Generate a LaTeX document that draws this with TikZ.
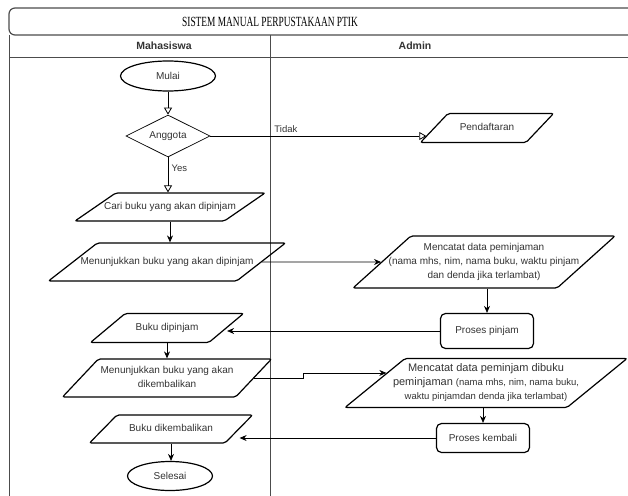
\documentclass[tikz,border=0pt]{standalone}
\usepackage{fontspec}
\setmainfont{Liberation Sans}
\newfontfamily\titlefont[FakeStretch=0.67]{Liberation Serif}
\usetikzlibrary{shapes.geometric}
\usetikzlibrary{arrows.meta}
\usetikzlibrary{calc}
\newcommand{\nw}[1]{\makebox[0pt]{\begin{tabular}{@{}c@{}}#1\end{tabular}}}
\colorlet{lanec}{black!70}
\colorlet{txtc}{black!80}
\tikzset{fcp/.style={
  x=1pt,
  y=-1pt,
  font=\fontsize{10}{14}\selectfont
}}
\tikzset{term/.style={
  draw,
  shape=ellipse,
  line width=1.2pt,
  inner sep=0pt,
  text=txtc
}}
\tikzset{dec/.style={
  draw,
  shape=diamond,
  aspect=2,
  line width=0.7pt,
  inner sep=0pt,
  text=txtc
}}
\tikzset{io/.style={
  draw,
  shape=trapezium,
  trapezium stretches body,
  rounded corners=2pt,
  line width=1.2pt,
  inner sep=0pt,
  text=txtc
}}
\tikzset{sl/.style={trapezium left angle=#1,trapezium right angle={180-#1}}}
\tikzset{proc/.style={
  draw,
  shape=rectangle,
  rounded corners=5pt,
  line width=1.2pt,
  inner sep=0pt,
  text=txtc
}}
\tikzset{flow/.style={-{Stealth[length=7pt,width=6pt]},line width=0.8pt}}
\tikzset{flowo/.style={-{Triangle[open,length=7pt,width=8pt]},line width=0.8pt}}

\begin{document}
\begin{tikzpicture}[fcp]
    \clip (0,0) rectangle (628,495);

    % Pool and lanes
    \draw[lanec,line width=1.2pt,rounded corners=6pt] (9,8) rectangle (680,35);
    \node[font=\titlefont\fontsize{14}{16}\selectfont] (judul) at (270,22)
      {SISTEM MANUAL PERPUSTAKAAN PTIK};
    \draw[lanec,line width=0.9pt] (9,35) -- (9,500);
    \draw[lanec,line width=0.9pt] (270,35) -- (270,500);
    \draw[lanec,line width=0.9pt] (9,57) -- (680,57);
    \node[font=\bfseries\fontsize{10.5}{12}\selectfont,text=txtc] (mhs) at (164,46) {Mahasiswa};
    \node[font=\bfseries\fontsize{10.5}{12}\selectfont,text=txtc] (adm) at (415,46) {Admin};

    % Mahasiswa lane
    \node[term,minimum width=95,minimum height=30] (mulai) at (168,76) {Mulai};
    \node[dec,minimum width=84,minimum height=42] (anggota) at (168,136) {Anggota};
    \node[io,sl=19,minimum width=190,minimum height=28] (cari) at (170,207)
      {\nw{Cari buku yang akan dipinjam}};
    \node[io,sl=16,minimum width=237,minimum height=38] (tunjuk) at (167,262)
      {\nw{Menunjukkan buku yang akan dipinjam}};
    \node[io,sl=22,minimum width=153,minimum height=29] (dipinjam) at (167,328)
      {\nw{Buku dipinjam}};
    \node[io,sl=38,minimum width=209,minimum height=38] (tunjukb) at (167,378)
      {\nw{Menunjukkan buku yang akan\\dikembalikan}};
    \node[io,sl=27,minimum width=163,minimum height=28] (kembalikan) at (171,429)
      {\nw{Buku dikembalikan}};
    \node[term,minimum width=85,minimum height=29] (selesai) at (170,476) {Selesai};

    % Admin lane
    \node[io,sl=27,minimum width=133,minimum height=29] (daftar) at (487,128)
      {\nw{Pendaftaran}};
    \node[io,sl=36,minimum width=262,minimum height=52] (catat) at (484,262)
      {\nw{Mencatat data peminjaman\\(nama mhs, nim, nama buku, waktu pinjam\\dan denda jika terlambat)}};
    \node[proc,minimum width=93,minimum height=35] (pinjam) at (487,331) {Proses pinjam};
    \node[io,sl=35,minimum width=282,minimum height=49] (catatb) at (486,383)
      {\nw{\fontsize{11}{14}\selectfont Mencatat data peminjam dibuku\\
        \fontsize{11}{14}\selectfont peminjaman {\fontsize{9.5}{14}\selectfont(nama mhs, nim, nama buku,}\\
        \fontsize{9.5}{14}\selectfont waktu pinjamdan denda jika terlambat)}};
    \node[proc,minimum width=93,minimum height=29] (kembali) at (483,438) {Proses kembali};

    % Connectors
    \coordinate (daftarin) at ($(daftar.bottom left corner)!.25!(daftar.top left corner)$);
    \coordinate (catatbin) at ($(catatb.bottom left corner)!.7!(catatb.top left corner)$);
    \draw[flowo] (mulai) -- (anggota);
    \draw[flowo] (anggota.east) -- node[above,pos=.35,text=txtc,font=\fontsize{9.5}{11}\selectfont] {Tidak}
      (anggota.east -| daftarin);
    \draw[flowo] (anggota.south) -- node[right,pos=.3,text=txtc,font=\fontsize{9.5}{11}\selectfont] {Yes}
      (anggota.south |- cari.north);
    \draw[flow] (cari.south) -- (cari.south |- tunjuk.north);
    \draw[flow] (tunjuk.east) -- (catat.west);
    \draw[flow] (catat.south -| pinjam.north) -- (pinjam.north);
    \draw[flow] (pinjam.west) -- (pinjam.west -| dipinjam.east);
    \draw[flow] (dipinjam.south) -- (dipinjam.south |- tunjukb.north);
    \draw[flow] (tunjukb.east) -- ++(49,0) |- (catatbin);
    \draw[flow] (catatb.south -| kembali.north) -- (kembali.north);
    \draw[flow] (kembali.west) -- (kembali.west -| kembalikan.east);
    \draw[flow] (kembalikan.south) -- (kembalikan.south |- selesai.north);

  \end{tikzpicture}
\end{document}
